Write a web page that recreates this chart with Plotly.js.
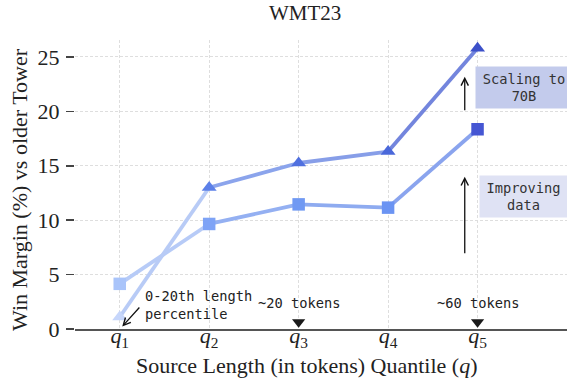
<!DOCTYPE html>
<html>
<head>
<meta charset="utf-8">
<script src="https://cdn.plot.ly/plotly-3.0.1.min.js"></script>
<style>html,body{margin:0;padding:0;background:#fff;}#chart{width:567px;height:381px;}</style>
</head>
<body>
<div id="chart"></div>
<script>
// ---- data ----
const quantiles = [1, 2, 3, 4, 5];
const tickLabels = ['<i>q</i><sub>1</sub>', '<i>q</i><sub>2</sub>', '<i>q</i><sub>3</sub>', '<i>q</i><sub>4</sub>', '<i>q</i><sub>5</sub>'];
const yTicks = [0, 5, 10, 15, 20, 25];
const scaledTower = [1.1, 13.0, 15.25, 16.3, 25.8];   // triangles
const dataTower = [4.15, 9.65, 11.45, 11.15, 18.35];   // squares
const tokenMarkQ = [3, 5];
const tokenMarkText = ['~20 tokens', '~60 tokens'];

// ---- styles ----
const triMarkerColors = ['#c6d6fb', '#5c80e8', '#5070df', '#4a68da', '#3c50c9'];
const sqMarkerColors = ['#a9c4fa', '#7ea3f6', '#7099f3', '#6b94f3', '#4556d3'];
const triLineColors = ['#b8cbf6', '#8ba4ec', '#879ee8', '#7385dd'];
const sqLineColors = ['#b7cbf7', '#94b0f2', '#8eabf0', '#8aa4ee'];

const traces = [];
function addSegments(vals, colors) {
  for (let i = 0; i < vals.length - 1; i++) {
    traces.push({
      x: [quantiles[i], quantiles[i + 1]], y: [vals[i], vals[i + 1]],
      mode: 'lines', line: {color: colors[i], width: 3.8},
      hoverinfo: 'skip', showlegend: false
    });
  }
}
addSegments(dataTower, sqLineColors);
addSegments(scaledTower, triLineColors);
traces.push({
  x: quantiles, y: dataTower, mode: 'markers',
  marker: {symbol: 'square', size: 12.5, color: sqMarkerColors, line: {width: 0}},
  showlegend: false
});
traces.push({
  x: quantiles, y: scaledTower, mode: 'markers',
  marker: {symbol: 'triangle-up', size: 13, color: triMarkerColors, line: {width: 0}},
  showlegend: false
});
traces.push({
  x: tokenMarkQ, y: tokenMarkQ.map(() => 0.64), mode: 'markers',
  marker: {symbol: 'triangle-down', size: 11.5, color: '#1a1a1a', line: {width: 0}},
  showlegend: false, cliponaxis: false
});

const serif = "'Liberation Serif', 'Times New Roman', serif";
const mono = "'DejaVu Sans Mono', monospace";

const annotations = [
  // titles
  {text: 'WMT23', xref: 'paper', yref: 'paper', x: 0.4675, y: 1, yshift: 27,
   xanchor: 'center', yanchor: 'middle', showarrow: false, font: {family: serif, size: 21, color: '#222'}},
  {text: 'Source Length (in tokens) Quantile (<i>q</i>)', xref: 'paper', yref: 'paper', x: 0.4715, y: 0, yshift: -36,
   xanchor: 'center', yanchor: 'middle', showarrow: false, font: {family: serif, size: 22, color: '#222'}},
  {text: 'Win Margin (%) vs older Tower', xref: 'paper', yref: 'paper', x: 0, y: 0.5, xshift: -56, yshift: -5.5,
   xanchor: 'center', yanchor: 'middle', textangle: -90, showarrow: false, font: {family: serif, size: 22, color: '#222'}},
  // percentile note
  {text: '0-20th length<br>percentile', x: 1.26, y: 2.2, xanchor: 'left', yanchor: 'middle', align: 'left',
   showarrow: false, font: {family: mono, size: 13.7, color: '#222'}},
  {text: '', x: 1.028, y: 0.23, ax: 18.5, ay: -20.5, showarrow: true, arrowhead: 5, arrowsize: 1.1, arrowwidth: 1.3, arrowcolor: '#111'},
  // token labels
  {text: tokenMarkText[0], x: tokenMarkQ[0], y: 2.39, xanchor: 'center', yanchor: 'middle', showarrow: false,
   font: {family: mono, size: 13.7, color: '#222'}},
  {text: tokenMarkText[1], x: tokenMarkQ[1], y: 2.39, xanchor: 'center', yanchor: 'middle', showarrow: false,
   font: {family: mono, size: 13.7, color: '#222'}},
  // arrows up
  {text: '', x: 4.857, y: 23.17, ax: 0, ay: 35, showarrow: true, arrowhead: 5, arrowsize: 1.1, arrowwidth: 1.3, arrowcolor: '#111'},
  {text: '', x: 4.857, y: 13.99, ax: 0, ay: 78, showarrow: true, arrowhead: 5, arrowsize: 1.1, arrowwidth: 1.3, arrowcolor: '#111'},
  // boxes
  {text: 'Scaling to<br>70B', x: 5.518, y: 22.19, xanchor: 'center', yanchor: 'middle', showarrow: false,
   width: 96, height: 41, borderpad: 0, bgcolor: '#c3cbec', font: {family: mono, size: 13.7, color: '#333'}},
  {text: 'Improving<br>data', x: 5.512, y: 12.15, xanchor: 'center', yanchor: 'middle', showarrow: false,
   width: 87, height: 41, borderpad: 0, bgcolor: '#dfe2f4', font: {family: mono, size: 13.7, color: '#333'}}
];

const layout = {
  width: 567, height: 381,
  margin: {l: 75, r: 0, t: 40, b: 52},
  paper_bgcolor: '#fff', plot_bgcolor: '#fff',
  showlegend: false,
  xaxis: {
    range: [0.5, 6.0], tickvals: quantiles, ticktext: tickLabels,
    showgrid: true, gridcolor: '#dedede', gridwidth: 1, griddash: '3px,2px',
    zeroline: false, showline: true, linecolor: '#555', linewidth: 1.5,
    ticks: '', ticklabelstandoff: -14, tickfont: {family: serif, size: 22, color: '#222'}
  },
  yaxis: {
    range: [0, 26.55], tickvals: yTicks,
    showgrid: true, gridcolor: '#dedede', gridwidth: 1, griddash: '3px,2px',
    zeroline: false, showline: false,
    ticks: 'outside', ticklen: 8, tickwidth: 1.6, tickcolor: '#444',
    ticklabelstandoff: 2,
    tickfont: {family: serif, size: 22, color: '#222'}
  },
  annotations: annotations
};

Plotly.newPlot('chart', traces, layout, {displayModeBar: false, staticPlot: true});
</script>
</body>
</html>
